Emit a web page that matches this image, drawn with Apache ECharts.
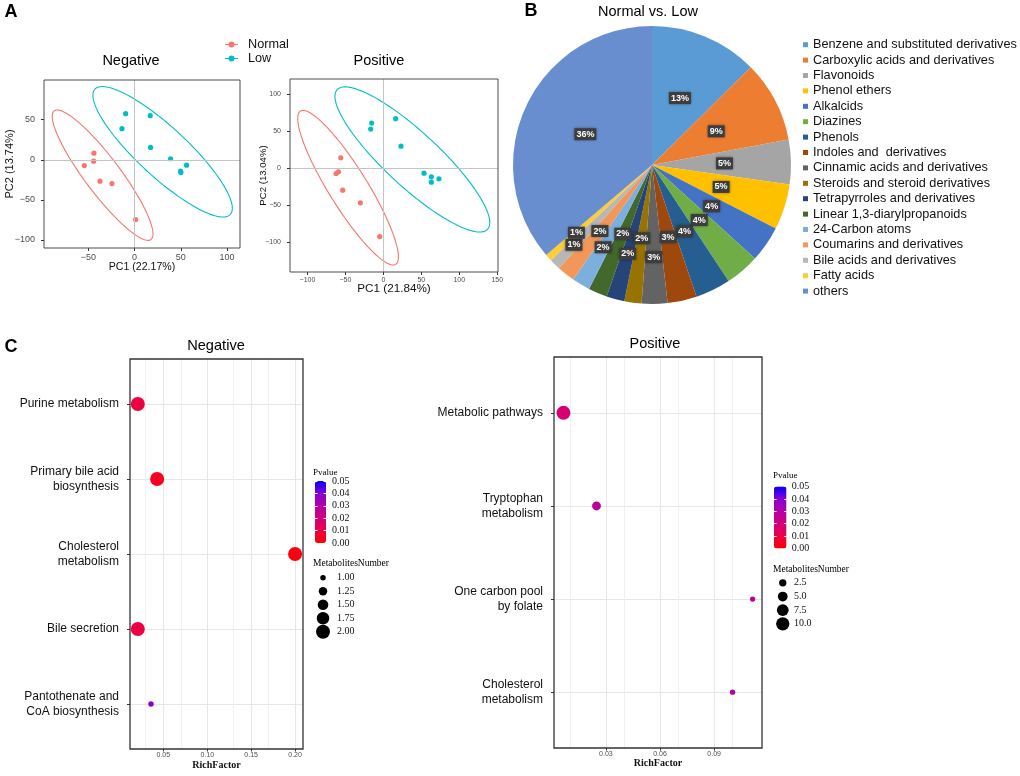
<!DOCTYPE html>
<html><head><meta charset="utf-8">
<script src="https://cdn.jsdelivr.net/npm/echarts@6/dist/echarts.min.js"></script>
<style>html,body{margin:0;padding:0;background:#fff}#c{width:1020px;height:776px}</style>
</head><body><div id="c"></div>
<script>
// ---------- DATA ----------
// Panel A: PCA scores
const pcaNegNormal = [[-44,8.3],[-44.3,-1.7],[-54.4,-7.1],[-37.5,-26.7],[-24.5,-29.6],[1.1,-74.6]];
const pcaNegLow = [[-9.7,57.5],[16.9,55],[-13.7,38.8],[17.3,15.4],[38.9,1.3],[49.7,-14.2],[50.1,-15.8],[56.2,-6.7]];
const pcaPosNormal = [[-56.1,14.4],[-59.2,-4.5],[-62.3,-6.8],[-53.5,-29.3],[-30.3,-46.5],[-4.8,-92.1]];
const pcaPosLow = [[-15.4,61.4],[-16.7,53.3],[16.2,67.3],[23.2,30.2],[53.5,-6.3],[63.2,-11.3],[63.2,-18.5],[73.2,-14]];
// confidence ellipses: [centerX, centerY, axis1X, axis1Y, axis2X, axis2Y] (data units)
const ellNegNormal = [-34.6,-19.2,52.3,-80.2,15.3,13.3];
const ellNegLow = [30.3,10,73.2,-78.1,18.1,22.7];
const ellPosNormal = [-46.5,-26,62.7,-103.6,21.6,13.9];
const ellPosLow = [38.2,12.2,99.1,-94.4,24.1,26.9];
const groupNames = ['Normal','Low'];
const pcaNegTitles = ['PC1 (22.17%)','PC2 (13.74%)'];
const pcaPosTitles = ['PC1 (21.84%)','PC2 (13.04%)'];

// Panel B: pie
const pieNames = ['Benzene and substituted derivatives','Carboxylic acids and derivatives','Flavonoids','Phenol ethers','Alkalcids','Diazines','Phenols','Indoles and  derivatives','Cinnamic acids and derivatives','Steroids and steroid derivatives','Tetrapyrroles and derivatives','Linear 1,3-diarylpropanoids','24-Carbon atoms','Coumarins and derivatives','Bile acids and derivatives','Fatty acids','others'];
const pieValues = [12.6,9.5,5.2,5.3,4.2,4.0,4.1,3.4,3.0,2.0,2.1,2.2,2.1,2.1,1.3,0.8,36.3];

// Panel C: enrichment bubbles
const negPathways = ['Purine metabolism','Primary bile acid\nbiosynthesis','Cholesterol\nmetabolism','Bile secretion','Pantothenate and\nCoA biosynthesis'];
const negRichFactor = [0.021,0.043,0.200,0.021,0.036];
const negPvalue = [0.0095,0.005,0.002,0.0095,0.039];
const negCount = [2,2,2,2,1];
const posPathways = ['Metabolic pathways','Tryptophan\nmetabolism','One carbon pool\nby folate','Cholesterol\nmetabolism'];
const posRichFactor = [0.0065,0.0248,0.1113,0.1002];
const posPvalue = [0.0185,0.0275,0.028,0.030];
const posCount = [11,4,1,1];
const negSizeBreaks = [1,1.25,1.5,1.75,2];
const posSizeBreaks = [2.5,5,7.5,10];

// ---------- STYLE ----------
const SANS = '"Liberation Sans", Arial, Helvetica, sans-serif';
const SERIF = '"Liberation Serif", "Times New Roman", serif';
const RED = '#F8766D', TEAL = '#00BFC4';
const pieColors = ['#5B9BD5','#ED7D31','#A5A5A5','#FFC000','#4472C4','#70AD47','#255E91','#9E480E','#636363','#997300','#264478','#43682B','#7CAFDD','#F1975A','#B7B7B7','#FFCD33','#698ED0'];
const pieLabelRadius = [0.5,0.5,0.5,0.5,0.5,0.5,0.51,0.51,0.635,0.51,0.635,0.515,0.66,0.58,0.77,0.70,0.506];
const PIE_C = [652,165], PIE_R = 139;
const pvalueColors = ['#FF0000','#EC0046','#D2007A','#B400A5','#8700D2','#0000FF'];
const GRIDS = [
  {left:44, top:80, width:196, height:168},
  {left:290, top:79, width:208, height:193},
  {left:130, top:359, width:173, height:390},
  {left:554, top:357, width:208, height:391},
  {left:315, top:481, width:11, height:62},
  {left:774, top:486.5, width:12.5, height:62},
  {left:315, top:571, width:16, height:67.5},
  {left:775, top:576, width:15.5, height:54.7}
];

function isMult(v, step){ return Math.abs(v/step - Math.round(v/step)) < 1e-6; }
function ticksFor(min, max, step){ const out=[]; for (let k=Math.ceil(min/step-1e-9); k*step<=max+1e-12; k++) out.push(+(k*step).toFixed(6)); return out; }
function minus(v){ return String(v).replace('-', '\u2212'); }
function sizeScale(values, dmin, dmax){
  const lo = Math.min.apply(null, values), hi = Math.max.apply(null, values);
  return v => Math.sqrt(dmin*dmin + (dmax*dmax - dmin*dmin) * (v - lo) / (hi - lo));
}
const negSize = sizeScale(negCount, 5.5, 14);
const posSize = sizeScale(posCount, 5.3, 14);

function renderEllipse(params, api){
  const cx=api.value(0), cy=api.value(1), ax=api.value(2), ay=api.value(3), bx=api.value(4), by=api.value(5);
  const pts=[];
  for (let k=0;k<=144;k++){ const t=k/144*2*Math.PI; pts.push(api.coord([cx+ax*Math.cos(t)+bx*Math.sin(t), cy+ay*Math.cos(t)+by*Math.sin(t)])); }
  return {type:'polyline', shape:{points:pts}, style:{fill:null, stroke:api.visual('color'), lineWidth:1.1}};
}

function pcaAxis(gridIndex, min, max, step, fontSize, margin, name, nameGap, nameSize){
  const ticks = ticksFor(min, max, step);
  return { type:'value', gridIndex, min, max, minInterval:step, maxInterval:step,
    axisLine:{show:false, onZero:false}, splitLine:{show:false},
    axisTick:{show:true, length:3, lineStyle:{color:'#333'}, customValues:ticks},
    axisLabel:{fontSize, color:'#4d4d4d', fontFamily:SANS, margin, customValues:ticks,
      formatter: v => isMult(v, step) ? minus(Math.round(v)) : ''},
    name, nameLocation:'middle', nameGap, nameMoveOverlap:false,
    nameTextStyle:{fontSize:nameSize, color:'#111', fontFamily:SANS} };
}
function bubbleX(gridIndex, min, max, step, nameGap){
  const ticks = ticksFor(min, max, step);
  return {type:'value', gridIndex, min, max, minInterval:step, maxInterval:step, position:'bottom',
    axisLine:{show:false, onZero:false},
    axisTick:{show:true, length:2.5, lineStyle:{color:'#333'}, customValues:ticks},
    axisLabel:{fontSize:7, color:'#4d4d4d', fontFamily:SANS, margin:3, customValues:ticks,
      formatter: v => isMult(v, step) ? v.toFixed(2) : ''},
    splitLine:{show:true, lineStyle:{color:'#e6e6e6', width:1}},
    name:'RichFactor', nameLocation:'middle', nameGap, nameMoveOverlap:false,
    nameTextStyle:{fontFamily:SERIF, fontWeight:'bold', fontSize:10, color:'#111'} };
}
function bubbleY(gridIndex, names){
  const n = names.length; const vals = names.map((_, i) => n - i);
  return {type:'value', gridIndex, min:0.4, max:n+0.6, minInterval:1, maxInterval:1,
    axisLine:{show:false, onZero:false},
    axisTick:{show:true, length:3, lineStyle:{color:'#333'}, customValues:vals},
    axisLabel:{customValues:vals, margin:11, fontSize:12, lineHeight:14.7, color:'#111', fontFamily:SANS,
      formatter: v => { const k=Math.round(v); return (Math.abs(v-k)<1e-6 && k>=1 && k<=n) ? names[n-k] : ''; }},
    splitLine:{show:true, lineStyle:{color:'#e6e6e6', width:1}}};
}
function cbarAxis(gridIndex, side, margin){
  return {type:'value', gridIndex, min:0, max:0.05, interval:0.01, position:side, z:10,
    axisLine:{show:false, onZero:false}, splitLine:{show:false},
    axisTick:{show:true, inside:true, length:2.5, lineStyle:{color:'#fff', width:1}},
    axisLabel:{show: side==='right', margin, fontSize:10, fontFamily:SERIF, color:'#111', formatter: v => v.toFixed(2)}};
}
function sizeLegendY(gridIndex, breaks, digits, margin){
  return {type:'category', gridIndex, inverse:true, position:'right', data:breaks.map(v => v.toFixed(digits)),
    axisLine:{show:false, onZero:false}, axisTick:{show:false}, splitLine:{show:false},
    axisLabel:{margin, fontSize:10, fontFamily:SERIF, color:'#111'}};
}
const hiddenX = (gridIndex) => ({type:'value', gridIndex, min:-1, max:1, show:false});

const legendIcon = 'path://M0,2.6L13,2.6L13,3.4L0,3.4Z M9.5,3A3,3,0,1,1,3.5,3A3,3,0,1,1,9.5,3Z';

// ---------- SERIES ----------
const series = [];
function pcaSeries(ax, normal, low, ellN, ellL){
  series.push({type:'line', xAxisIndex:ax, yAxisIndex:ax, data:[], silent:true, z:1,
    markLine:{silent:true, symbol:'none', animation:false, label:{show:false},
      lineStyle:{color:'#c4c4c4', width:1, type:'solid'}, data:[{xAxis:0},{yAxis:0}]}});
  series.push({type:'custom', name:'ellipse-normal', xAxisIndex:ax, yAxisIndex:ax, data:[ellN], renderItem:renderEllipse, itemStyle:{color:RED}, silent:true, z:2, encode:{x:0,y:1}});
  series.push({type:'custom', name:'ellipse-low', xAxisIndex:ax, yAxisIndex:ax, data:[ellL], renderItem:renderEllipse, itemStyle:{color:TEAL}, silent:true, z:2, encode:{x:0,y:1}});
  series.push({type:'scatter', name:groupNames[0], xAxisIndex:ax, yAxisIndex:ax, data:normal, symbolSize:5.2, itemStyle:{color:RED, opacity:1}, z:3});
  series.push({type:'scatter', name:groupNames[1], xAxisIndex:ax, yAxisIndex:ax, data:low, symbolSize:5.2, itemStyle:{color:TEAL, opacity:1}, z:3});
}
pcaSeries(0, pcaNegNormal, pcaNegLow, ellNegNormal, ellNegLow);
pcaSeries(1, pcaPosNormal, pcaPosLow, ellPosNormal, ellPosLow);

series.push({type:'pie', name:'Normal vs. Low', center:PIE_C, radius:[0,PIE_R], startAngle:90, clockwise:true,
  avoidLabelOverlap:false, emphasis:{disabled:true},
  data: pieNames.map((n,i) => ({name:n, value:pieValues[i], itemStyle:{color:pieColors[i]}})),
  label:{show:true, position:'inside', formatter: p => Math.round(p.percent) + '%',
    color:'#fff', fontSize:9, fontWeight:'bold', fontFamily:SANS, backgroundColor:'#3d3d3d',
    padding:[2,2,1,2], shadowBlur:3, shadowColor:'rgba(0,0,0,0.55)'},
  labelLine:{show:false},
  labelLayout: function(params){
    const f = pieLabelRadius[params.dataIndex];
    const r = params.labelRect; const lx = r.x + r.width/2, ly = r.y + r.height/2;
    const k = f/0.5 - 1;
    return {dx:(lx-PIE_C[0])*k, dy:(ly-PIE_C[1])*k};
  }});

// minor vertical grid lines (half steps between major ticks)
function minorGrid(ax, ay, min, max, step){
  const vals = ticksFor(min, max, step/2).filter(v => !isMult(v, step));
  series.push({type:'line', xAxisIndex:ax, yAxisIndex:ay, data:[], silent:true, z:1,
    markLine:{silent:true, symbol:'none', animation:false, label:{show:false},
      lineStyle:{color:'#eeeeee', width:0.8, type:'solid'}, data: vals.map(v => ({xAxis:v}))}});
}
minorGrid(2, 2, 0.0121, 0.2090, 0.05);
minorGrid(3, 3, 0.00126, 0.1165, 0.03);

const negBubbleIdx = series.length;
series.push({type:'scatter', name:'Negative enrichment', xAxisIndex:2, yAxisIndex:2, z:5,
  itemStyle:{opacity:1},
  data: negPathways.map((n,i) => [negRichFactor[i], negPathways.length - i, negPvalue[i], negCount[i]]),
  symbolSize: v => negSize(v[3])});
const posBubbleIdx = series.length;
series.push({type:'scatter', name:'Positive enrichment', xAxisIndex:3, yAxisIndex:3, z:5,
  itemStyle:{opacity:1},
  data: posPathways.map((n,i) => [posRichFactor[i], posPathways.length - i, posPvalue[i], posCount[i]]),
  symbolSize: v => posSize(v[3])});
series.push({type:'scatter', xAxisIndex:6, yAxisIndex:8, silent:true, itemStyle:{color:'#000', opacity:1},
  data: negSizeBreaks.map((v,i) => [0,i]), symbolSize: (val,p) => negSize(negSizeBreaks[p.dataIndex])});
series.push({type:'scatter', xAxisIndex:7, yAxisIndex:9, silent:true, itemStyle:{color:'#000', opacity:1},
  data: posSizeBreaks.map((v,i) => [0,i]), symbolSize: (val,p) => posSize(posSizeBreaks[p.dataIndex])});

function txt(text, x, y, size, opts){
  opts = opts || {};
  return {type:'text', x, y, silent:true, z:20, style:{text, fontSize:size, fontFamily:opts.family||SANS, fontWeight:opts.weight||'normal',
    fill:'#000', textAlign:opts.align||'center', align:opts.align||'center', textVerticalAlign:'middle', verticalAlign:'middle'}};
}
function frame(g, color, width){
  return {type:'rect', silent:true, z:50, shape:{x:g.left, y:g.top, width:g.width, height:g.height},
    style:{fill:null, stroke:color, lineWidth:width}};
}

const option = {
  animation:false,
  backgroundColor:'#fff',
  grid: GRIDS.map((g, i) => Object.assign({outerBoundsMode:'none', containLabel:false}, g,
    i < 4 ? {show:true, borderWidth:0, backgroundColor:'#fff'} : {})),
  xAxis:[
    pcaAxis(0, -98, 114, 50, 9, 5.5, pcaNegTitles[0], 13.5, 10.6),
    pcaAxis(1, -123, 151, 50, 7, 4.5, pcaPosTitles[0], 11, 11.7),
    bubbleX(2, 0.0121, 0.2090, 0.05, 11),
    bubbleX(3, 0.00126, 0.1165, 0.03, 10.6),
    hiddenX(4), hiddenX(5), hiddenX(6), hiddenX(7)
  ],
  yAxis:[
    pcaAxis(0, -110, 99.5, 50, 9, 9, pcaNegTitles[1], 29, 11),
    pcaAxis(1, -140, 121, 50, 7, 9, pcaPosTitles[1], 22, 9.6),
    bubbleY(2, negPathways),
    bubbleY(3, posPathways),
    cbarAxis(4, 'right', 6), cbarAxis(4, 'left', 6),
    cbarAxis(5, 'right', 5.2), cbarAxis(5, 'left', 5.2),
    sizeLegendY(6, negSizeBreaks, 2, 6),
    sizeLegendY(7, posSizeBreaks, 1, 3.5)
  ],
  legend:[
    {orient:'vertical', left:220, top:33, itemWidth:13, itemHeight:6, itemGap:1, selectedMode:false,
      data: groupNames.map(n => ({name:n, icon:legendIcon})),
      textStyle:{fontSize:12.7, lineHeight:13, color:'#111', fontFamily:SANS, padding:[0,0,0,5]}},
    {orient:'vertical', left:798, top:33, itemWidth:5, itemHeight:5, itemGap:2, icon:'rect', selectedMode:false,
      data: pieNames,
      textStyle:{fontSize:12.7, lineHeight:13.4, color:'#111', fontFamily:SANS}}
  ],
  visualMap:[
    {type:'continuous', seriesIndex:[negBubbleIdx], dimension:2, min:0, max:0.05, inRange:{color:pvalueColors},
      left:315, top:481, itemWidth:11, itemHeight:62, calculable:false, padding:0, hoverLink:false, text:null},
    {type:'continuous', seriesIndex:[posBubbleIdx], dimension:2, min:0, max:0.05, inRange:{color:pvalueColors},
      left:774, top:486.5, itemWidth:12.5, itemHeight:62, calculable:false, padding:0, hoverLink:false, text:null}
  ],
  graphic:[
    frame(GRIDS[0], '#4d4d4d', 1),
    frame(GRIDS[1], '#4d4d4d', 1),
    frame(GRIDS[2], '#333', 1.3),
    frame(GRIDS[3], '#333', 1.3),
    txt('A', 11, 12, 18, {weight:'bold'}),
    txt('B', 531, 11, 18, {weight:'bold'}),
    txt('C', 11, 347, 18, {weight:'bold'}),
    txt('Negative', 131, 61, 14.5),
    txt('Positive', 379, 61, 14.5),
    txt('Normal vs. Low', 648, 12, 14.5),
    txt('Negative', 216, 346, 14.6),
    txt('Positive', 655, 344, 14.5),
    txt('Pvalue', 313, 473, 9, {family:SERIF, align:'left'}),
    txt('MetabolitesNumber', 313, 563, 9.5, {family:SERIF, align:'left'}),
    txt('Pvalue', 773, 476, 9, {family:SERIF, align:'left'}),
    txt('MetabolitesNumber', 773, 569, 9.5, {family:SERIF, align:'left'})
  ],
  series
};
const chart = echarts.init(document.getElementById('c'));
chart.setOption(option);
</script></body></html>
